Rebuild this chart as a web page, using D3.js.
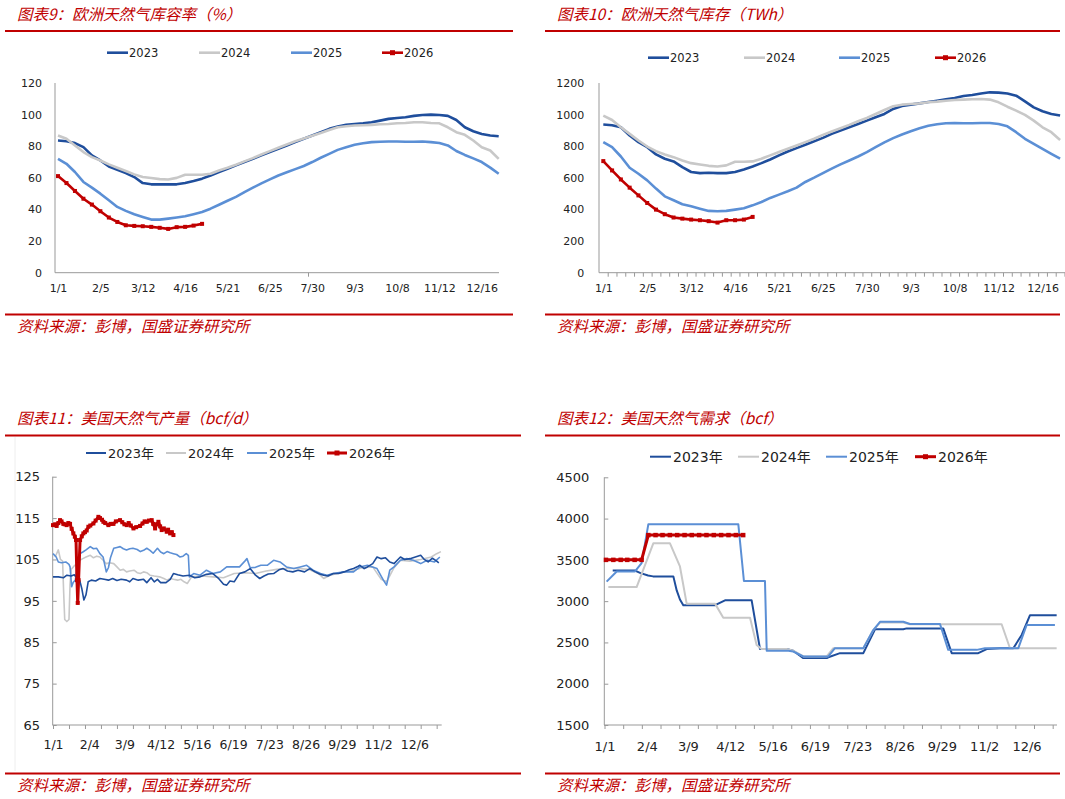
<!DOCTYPE html>
<html>
<head>
<meta charset="utf-8">
<script src="https://cdn.jsdelivr.net/npm/d3@7"></script>
<style>
  body { margin: 0; background: #fff; }
  svg { display: block; }
</style>
</head>
<body>
<div id="grafica"></div>
<script>
// ---- datos ----
series = ['2023', '2024', '2025', '2026']
seriesAnio = ['2023年', '2024年', '2025年', '2026年']

// 图表9: 欧洲天然气库容率 (%), semanal desde 1/1
euRate2023 = [83.6,83.2,82,79.4,74.2,71,67.2,65.1,63,60.5,56.7,55.9,55.9,55.9,55.9,56.7,58,59.5,61.5,63.7,65.8,67.9,70,72,74.2,76.3,78.4,80.5,82.6,84.7,86.8,88.9,91,92.4,93.5,94.1,94.5,95.2,96.2,97.3,97.9,98.3,99.2,99.8,100,99.8,99.2,96.6,92,89.5,87.8,86.8,86.3]
euRate2024 = [86.8,84.7,80.5,76.3,73.1,71,68.5,66.4,64.3,62.2,60.5,59.9,59.2,59,60,62,62,62,62.6,64.7,66.4,68.3,70.4,72.5,74.8,76.9,79,81.1,83.2,84.9,86.6,88.4,90.3,92,92.6,93.1,93.3,93.5,93.9,94.1,94.5,94.7,95.2,95.2,94.7,94.5,92,88.9,87.2,83.6,79.4,77.3,72]
euRate2025 = [72,68.9,63.7,57.4,53.8,50,45.8,41.6,39.1,37,35.3,33.6,33.6,34.2,34.9,35.7,37,38.4,40.5,43,45.5,48,51,53.8,56.5,59,61.5,63.5,65.5,67.5,70,72.7,75.2,77.7,79.4,80.9,81.9,82.6,82.8,83,83,82.8,82.8,83,82.6,82,80.5,77,74.5,72.3,70,66.5,62.6]
euRate2026 = [61.1,56.7,51.7,46.8,43.1,38.9,34.9,32.1,30,29.6,29.4,29,28.4,27.7,28.8,29,29.8,30.9]
euRateLabels = ['1/1','2/5','3/12','4/16','5/21','6/25','7/30','9/3','10/8','11/12','12/16']

// 图表10: 欧洲天然气库存 (TWh), semanal
euStock2023 = [937,933,920,868,826,794,748,721,704,668,637,630,632,630,630,637,653,672,693,716,742,767,788,809,832,853,878,899,920,941,962,983,1004,1036,1055,1063,1071,1080,1088,1097,1105,1118,1124,1134,1141,1139,1134,1120,1084,1046,1021,1004,994]
euStock2024 = [994,966,920,878,836,798,769,748,731,710,693,685,676,672,679,702,702,704,721,742,763,784,805,826,847,872,893,914,935,958,979,1004,1029,1053,1063,1067,1071,1078,1082,1088,1092,1095,1097,1099,1095,1078,1050,1025,998,962,920,889,840]
euStock2025 = [826,794,735,664,626,584,532,483,458,433,420,405,391,389,391,399,408,426,447,473,494,515,538,574,601,630,658,685,710,735,763,794,824,851,874,895,914,929,939,945,947,945,945,947,947,941,926,889,847,815,784,752,721]
euStock2026 = [706,647,590,538,489,441,399,370,349,342,336,332,326,317,332,332,336,353]

// 图表11: 美国天然气产量 (bcf/d), [día del año, valor]
usProd2023 = [[0,100.8],[5,100.8],[10,100.6],[13,101.2],[17,101],[20,101.3],[23,100.2],[25,100],[27,98],[29,95.2],[31,96.5],[33,99.6],[36,100],[40,99.8],[44,100.4],[48,100.2],[52,100],[56,100.4],[60,99.9],[64,100.2],[69,100],[72,99.6],[75,100.4],[80,100],[85,100.2],[88,99.4],[92,100.6],[95,99.6],[98,100.2],[101,99.4],[106,99.4],[110,100.2],[113,101.6],[117,101.3],[122,101],[128,101.2],[133,100.6],[138,100.8],[144,101.4],[150,101.6],[155,100.5],[160,99],[163,98.8],[166,99.8],[170,99.6],[175,101.6],[180,102],[185,102.8],[190,101.2],[194,100.4],[198,101],[202,101.5],[207,101.6],[212,102.5],[216,102.8],[220,102.2],[225,102],[230,102.4],[236,102],[241,102.8],[246,102],[250,101.5],[254,101.2],[258,101],[263,101.6],[268,101.6],[273,102],[278,102.5],[282,102.8],[286,103.3],[288,103.6],[292,102.8],[295,103.2],[300,104],[304,105.6],[308,105.2],[312,105.4],[316,104.4],[320,104],[323,104.8],[326,105.6],[330,105],[335,105.2],[340,105.6],[345,106],[348,105.1],[352,104.4],[356,105.3],[360,104.6],[362,104.2]]
usProd2024 = [[2,105.6],[5,107.3],[7,105],[9,104.6],[10,97],[11,90.5],[13,90],[15,90.5],[16,99],[17,102.6],[20,103.5],[23,104],[25,104.8],[28,105.2],[31,105.6],[35,106],[38,105.4],[41,105.8],[44,105.6],[47,104.8],[50,104],[53,104.2],[57,104],[60,103.2],[63,102.4],[66,102.6],[69,102],[72,102.2],[76,102.4],[79,101.8],[82,101.6],[85,102],[88,101.8],[91,101.2],[95,101],[100,100.8],[104,100.4],[107,100],[110,100.4],[113,100.2],[117,100],[120,100.2],[123,99.6],[126,99.2],[130,100.8],[140,101],[150,100.8],[160,100.6],[170,101.6],[180,101.8],[190,101.6],[200,102.2],[210,102.6],[220,102.8],[230,102.8],[240,102.6],[250,101.4],[254,100.4],[260,101.2],[270,101.8],[280,102.2],[290,103],[300,103.2],[308,100.2],[313,99.6],[320,103],[326,104.8],[335,104.6],[345,105],[355,105.6],[360,106.4],[364,106.9]]
usProd2025 = [[0,106.4],[3,105.6],[5,104.4],[8,104.2],[12,104.4],[15,103.8],[16,103.2],[17.5,98.4],[19,99.5],[21,100],[23,104],[25,106.4],[28,106.8],[31,107.3],[35,108.1],[38,107.6],[41,107.7],[44,106.4],[47,105.6],[50,102],[52,103],[54,105.5],[57,107.7],[60,107.9],[63,108.1],[66,107.6],[69,107.3],[72,107.6],[75,107.7],[79,107.4],[82,106.9],[85,107.2],[88,107.7],[91,107.2],[94,106.5],[98,107.7],[101,106.8],[104,106.4],[107,106.9],[110,106.6],[113,106.4],[116,106.2],[119,105.6],[122,105.8],[125,106.4],[127,106],[128,100.8],[132,101.6],[138,101.2],[144,102.4],[150,101.6],[157,102],[163,103.2],[169,103.2],[175,103.2],[180,104.6],[182,105.2],[185,103],[190,103.1],[195,103.6],[201,103.6],[207,104.8],[213,104.4],[219,103.2],[226,102.8],[232,103.2],[238,103.6],[244,102.4],[251,101.6],[257,101.2],[263,101.6],[273,102],[282,102],[288,103.2],[295,103.6],[304,102.8],[310,100],[313,98.8],[316,102.4],[320,103.2],[326,104.8],[332,105.2],[338,104.8],[345,104],[351,104.8],[358,104.4],[363,105.6]]
usProd2026 = [[0,113.3],[2,113.5],[3.4,113.1],[5,113.8],[6.6,114.5],[8,114.2],[9.7,113.6],[11,113.5],[12.8,113.3],[14.4,113.8],[16,113.6],[17.5,112.4],[19.1,111.3],[20.5,110.5],[21.6,109.7],[22.5,100],[23.2,94.5],[24,100],[25.4,109.7],[27,110.6],[28.5,111.3],[30,111.6],[31.6,112],[33.2,112.9],[35,113.2],[37.9,113.7],[40,114.4],[42.6,115.3],[44.1,115],[46,114.6],[47.3,114.1],[49,113.8],[52,113.3],[54,113.6],[56.7,113.6],[59,114.2],[62.9,114.5],[65,114],[67,113.5],[69.2,113.3],[71,113.8],[73,113.2],[75.5,112.5],[78,112.8],[81.7,113.1],[84,113.7],[86,114.2],[88,114.1],[90,114.4],[92.6,114.5],[94,113.6],[95.8,112.5],[97.3,113.5],[98.9,114.1],[100.5,113],[102,112.1],[104,112.5],[106.7,111.7],[108,112.2],[109.9,111.3],[111.5,111.6],[113,110.9]]
usLabels = ['1/1','2/4','3/9','4/12','5/16','6/19','7/23','8/26','9/29','11/2','12/6']
usLabelDays = [0,34,67,101,135,169,203,237,271,305,339]

// 图表12: 美国天然气需求 (bcf), [día del año, valor]
usDem2023 = [[6.6,3370],[24.5,3370],[29,3340],[35,3310],[39,3300],[55.3,3300],[58,3130],[60.6,3020],[63.3,2950],[88.8,2950],[90.1,2960],[96.8,3010],[118.2,3010],[124.9,2420],[146.3,2420],[151.6,2400],[159.7,2310],[178.5,2310],[179.8,2320],[189.2,2370],[207.9,2370],[217.3,2660],[240,2660],[242.7,2670],[272.1,2670],[278.9,2370],[300.2,2370],[307,2420],[317.7,2430],[328.4,2430],[335.1,2590],[341.8,2830],[363.2,2830]]
usDem2024 = [[3.1,3170],[25.8,3170],[39.2,3700],[52.6,3700],[60.6,3420],[66,2970],[88.8,2970],[95.4,2800],[116.9,2800],[122.2,2470],[126.2,2420],[146.3,2420],[151.6,2400],[159.7,2330],[178.5,2330],[183.8,2430],[207.9,2430],[215.9,2650],[221.3,2740],[240,2740],[245.4,2720],[319,2720],[325.7,2430],[363.2,2430]]
usDem2025 = [[1.7,3236],[9.8,3360],[24.5,3360],[29.8,3460],[35.2,3930],[107.5,3930],[112,3244],[128.9,3244],[130.3,2400],[147.7,2400],[151.6,2390],[159.7,2330],[179.8,2330],[185.1,2430],[207.9,2430],[215.9,2650],[221.3,2750],[240,2750],[245.4,2723],[269.5,2723],[276.1,2410],[299,2410],[305.6,2430],[332.4,2430],[339.1,2711],[361.8,2711]]
usDem2026 = [[1.2,3500],[7.1,3500],[13,3500],[18.3,3500],[24.2,3500],[29.8,3500],[35.2,3800],[41,3800],[46.6,3800],[52.5,3800],[58.4,3800],[64.3,3800],[70.1,3800],[76,3800],[81.9,3800],[87.8,3800],[93.7,3800],[99.6,3800],[105.5,3800],[111.4,3800]]

// ---- estilos ----
colores = ['#1F4E9C', '#C8C8C8', '#5B8FD5', '#C00000']
rojo = '#C00000'
fuenteNum = 'DejaVu Sans, Verdana, sans-serif'
fuenteCjk = 'Noto Sans CJK SC, sans-serif'

semanal = (vals) => vals.map((v, i) => [i * 7, v])

svg = d3.select('#grafica')
        .append('svg')
        .attr('width', 1065)
        .attr('height', 799)

svg.append('rect').attr('width', 1065).attr('height', 799).attr('fill', '#fff')

function encabezado(x0, xFin, titulo, yTitulo, yLinea, yLineaFuente, yFuente) {
  svg.append('text')
     .attr('x', x0 + 17).attr('y', yTitulo)
     .attr('font-family', fuenteCjk).attr('font-size', '15.5px')
     .attr('font-style', 'italic').attr('fill', rojo)
     .text(titulo)
  svg.append('line')
     .attr('x1', x0 + 5).attr('x2', xFin).attr('y1', yLinea).attr('y2', yLinea)
     .attr('stroke', rojo).attr('stroke-width', 2)
  svg.append('line')
     .attr('x1', x0 + 5).attr('x2', xFin).attr('y1', yLineaFuente).attr('y2', yLineaFuente)
     .attr('stroke', rojo).attr('stroke-width', 2)
  svg.append('text')
     .attr('x', x0 + 17).attr('y', yFuente)
     .attr('font-family', fuenteCjk).attr('font-size', '15.5px')
     .attr('font-style', 'italic').attr('fill', rojo)
     .text('资料来源：彭博，国盛证券研究所')
}

function panel(p) {
  g = svg.append('g')

  x = d3.scaleLinear().domain(p.xDom).range(p.xRange)
  y = d3.scaleLinear().domain(p.yDom).range(p.yRange)

  // eje Y
  yAx = g.append('g')
         .attr('transform', `translate(${p.ejeX}, 0)`)
         .call(d3.axisLeft(y).tickValues(p.yTicks).tickSize(p.yTickIn ? -4 : 0).tickSizeOuter(0)
                 .tickPadding(p.yPad).tickFormat(d3.format('d')))
  yAx.select('.domain').remove()
  yAx.selectAll('line').attr('stroke', '#999')
  yAx.selectAll('text').attr('font-family', fuenteNum).attr('font-size', p.fsY).attr('fill', '#222')

  // marcas X
  xMarcas = g.append('g')
             .attr('transform', `translate(0, ${y(p.yDom[0])})`)
             .call(d3.axisBottom(x).tickValues(p.xMarcas).tickSize(4).tickSizeOuter(0).tickFormat(''))
  xMarcas.select('.domain').remove()
  xMarcas.selectAll('line').attr('stroke', '#999')

  // etiquetas X
  xAx = g.append('g')
         .attr('transform', `translate(0, ${y(p.yDom[0])})`)
         .call(d3.axisBottom(x).tickValues(p.xLabelDays).tickSize(0).tickPadding(p.xPad)
                 .tickFormat((d, i) => p.xLabels[i]))
  xAx.select('.domain').remove()
  xAx.selectAll('text').attr('font-family', fuenteNum).attr('font-size', p.fs).attr('fill', '#222')

  // lineas de ejes
  g.append('line')
   .attr('x1', p.ejeX).attr('x2', p.ejeX)
   .attr('y1', y(p.yDom[0])).attr('y2', y(p.yDom[1]))
   .attr('stroke', '#999').attr('stroke-width', 1)
  g.append('line')
   .attr('x1', p.ejeX).attr('x2', p.ejeXFin)
   .attr('y1', y(p.yDom[0])).attr('y2', y(p.yDom[0]))
   .attr('stroke', '#999').attr('stroke-width', 1)

  linea = d3.line().x((d) => x(d[0])).y((d) => y(d[1]))

  p.orden.forEach((k) => {
    s = p.datos[k]
    g.append('path')
     .datum(s)
     .attr('d', linea)
     .attr('fill', 'none')
     .attr('stroke', colores[k])
     .attr('stroke-width', k == 3 ? p.anchoRojo : p.ancho)
     .attr('stroke-linejoin', 'round')
    if (k == 3) {
      g.selectAll(null)
       .data(s)
       .enter()
       .append('rect')
         .attr('x', (d) => x(d[0]) - p.marca / 2)
         .attr('y', (d) => y(d[1]) - p.marca / 2)
         .attr('width', p.marca)
         .attr('height', p.marca)
         .attr('fill', rojo)
    }
  })

  // leyenda
  p.leyendaX.forEach((lx, i) => {
    ren = g.append('g').attr('transform', `translate(${lx}, ${p.leyendaY})`)
    ren.append('line')
       .attr('x1', 0).attr('x2', p.leyendaLargo).attr('y1', 0).attr('y2', 0)
       .attr('stroke', colores[i])
       .attr('stroke-width', i == 3 ? p.leyendaGrosorRojo : p.leyendaGrosor)
    if (i == 3) {
      ren.append('rect')
         .attr('x', p.leyendaLargo / 2 - 2.5).attr('y', -2.5)
         .attr('width', 5).attr('height', 5)
         .attr('fill', rojo)
    }
    ren.append('text')
       .attr('x', p.leyendaLargo + p.leyendaGap)
       .attr('y', 0)
       .attr('dy', '0.36em')
       .attr('font-family', fuenteNum + ', ' + fuenteCjk)
       .attr('font-size', p.leyendaFs)
       .attr('fill', '#222')
       .text(p.leyendaTxt[i])
  })
}

// ---- 图表9 ----
encabezado(0, 513, '图表9：欧洲天然气库容率（%）', 20, 31, 314.5, 332)
panel({
  xDom: [0, 364], xRange: [58, 498.7],
  yDom: [0, 120], yRange: [272.7, 83],
  yTicks: d3.range(0, 121, 20), yTickIn: false, yPad: 13,
  ejeX: 55, ejeXFin: 499,
  xMarcas: [206.5],
  xLabelDays: d3.range(0, 351, 35), xLabels: euRateLabels, xPad: 11.8,
  fs: '11px', fsY: '11px',
  datos: [semanal(euRate2023), semanal(euRate2024), semanal(euRate2025), semanal(euRate2026)],
  orden: [0, 1, 2, 3],
  ancho: 2.6, anchoRojo: 2.6, marca: 4,
  leyendaX: [107, 199, 291, 382], leyendaY: 52.7, leyendaLargo: 21, leyendaGap: 1,
  leyendaGrosor: 2.6, leyendaGrosorRojo: 2.6, leyendaFs: '11.5px', leyendaTxt: series
})

// ---- 图表10 ----
encabezado(540, 1060, '图表10：欧洲天然气库存（TWh）', 20, 31, 314.5, 332)
panel({
  xDom: [0, 364], xRange: [603.3, 1060.1],
  yDom: [0, 1200], yRange: [272.7, 83],
  yTicks: d3.range(0, 1201, 200), yTickIn: false, yPad: 14.7,
  ejeX: 599, ejeXFin: 1065,
  xMarcas: d3.range(3.5, 368, 7),
  xLabelDays: d3.range(0, 351, 35), xLabels: euRateLabels, xPad: 11.8,
  fs: '11px', fsY: '11px',
  datos: [semanal(euStock2023), semanal(euStock2024), semanal(euStock2025), semanal(euStock2026)],
  orden: [0, 1, 2, 3],
  ancho: 2.6, anchoRojo: 2.6, marca: 4,
  leyendaX: [648, 744, 839, 935], leyendaY: 57.7, leyendaLargo: 21, leyendaGap: 1,
  leyendaGrosor: 2.6, leyendaGrosorRojo: 2.6, leyendaFs: '11.5px', leyendaTxt: series
})

// ---- 图表11 ----
svg.append('line')
   .attr('x1', 15).attr('x2', 15).attr('y1', 437).attr('y2', 771)
   .attr('stroke', '#eeeeee').attr('stroke-width', 1)
encabezado(0, 521, '图表11：美国天然气产量（bcf/d）', 424, 435.5, 773.5, 791)
panel({
  xDom: [0, 365], xRange: [53, 442],
  yDom: [65, 125], yRange: [725, 476.7],
  yTicks: d3.range(65, 126, 10), yTickIn: true, yPad: 12.7,
  ejeX: 52.7, ejeXFin: 441.7,
  xMarcas: d3.range(0, 361, 15),
  xLabelDays: usLabelDays, xLabels: usLabels, xPad: 15.6,
  fs: '12.5px', fsY: '13px',
  datos: [usProd2023, usProd2024, usProd2025, usProd2026],
  orden: [1, 2, 0, 3],
  ancho: 1.6, anchoRojo: 3, marca: 4,
  leyendaX: [86, 166, 247, 327], leyendaY: 453, leyendaLargo: 20, leyendaGap: 2,
  leyendaGrosor: 2, leyendaGrosorRojo: 3, leyendaFs: '13px', leyendaTxt: seriesAnio
})

// ---- 图表12 ----
encabezado(540, 1060, '图表12：美国天然气需求（bcf）', 424, 435.5, 773.5, 791)
panel({
  xDom: [0, 365], xRange: [604.5, 1058.9],
  yDom: [1500, 4500], yRange: [725, 477.3],
  yTicks: d3.range(1500, 4501, 500), yTickIn: true, yPad: 15,
  ejeX: 604.3, ejeXFin: 1057,
  xMarcas: d3.range(0, 361, 15),
  xLabelDays: usLabelDays, xLabels: usLabels, xPad: 16.5,
  fs: '13px', fsY: '13px',
  datos: [usDem2023, usDem2024, usDem2025, usDem2026],
  orden: [0, 1, 2, 3],
  ancho: 2, anchoRojo: 3, marca: 4.5,
  leyendaX: [650, 738, 826, 915], leyendaY: 456.7, leyendaLargo: 21, leyendaGap: 2,
  leyendaGrosor: 2, leyendaGrosorRojo: 3, leyendaFs: '14px', leyendaTxt: seriesAnio
})
</script>
</body>
</html>
